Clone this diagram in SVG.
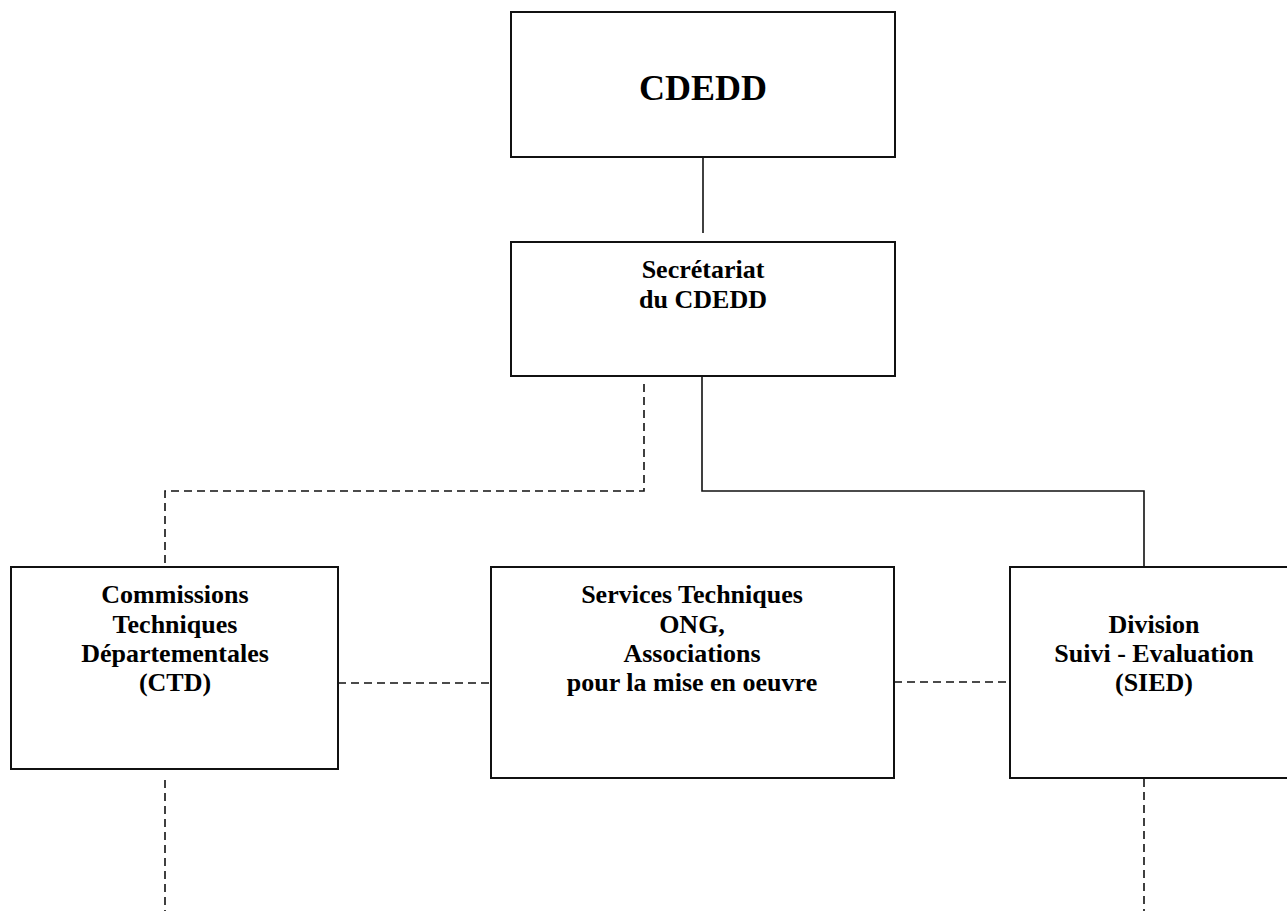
<svg xmlns="http://www.w3.org/2000/svg" width="1287" height="911" viewBox="0 0 1287 911">
<style>
.box{fill:#fff;stroke:#111;stroke-width:2}
.t{font-family:"Liberation Serif","Times New Roman",serif;font-weight:bold;font-size:26px;fill:#000;text-anchor:middle}
.big{font-size:36px}
.solid{fill:none;stroke:#111;stroke-width:1.6}
.dash{fill:none;stroke:#111;stroke-width:1.6;stroke-dasharray:8 5}
</style>
<rect width="1287" height="911" fill="#fff"/>
<g id="connectors">
<path class="solid" d="M703 155 V233"/>
<path class="solid" d="M702 376 V491 H1144 V567"/>
<path class="dash" d="M644 384 V491 H165 V567"/>
<path class="dash" d="M338 683 H491"/>
<path class="dash" d="M894 682 H1010"/>
<path class="dash" d="M165 780 V911"/>
<path class="dash" d="M1144 779 V911"/>
</g>
<g id="cdedd">
<rect class="box" x="511" y="12" width="384" height="145"/>
<text class="t big" x="703" y="100">CDEDD</text>
</g>
<g id="secretariat">
<rect class="box" x="511" y="242" width="384" height="134"/>
<text class="t" x="703" y="278">Secrétariat</text>
<text class="t" x="703" y="308">du CDEDD</text>
</g>
<g id="ctd">
<rect class="box" x="11" y="567" width="327" height="202"/>
<text class="t" x="175" y="603">Commissions</text>
<text class="t" x="175" y="633">Techniques</text>
<text class="t" x="175" y="662">Départementales</text>
<text class="t" x="175" y="691">(CTD)</text>
</g>
<g id="services">
<rect class="box" x="491" y="567" width="403" height="211"/>
<text class="t" x="692" y="603">Services Techniques</text>
<text class="t" x="692" y="633">ONG,</text>
<text class="t" x="692" y="662">Associations</text>
<text class="t" x="692" y="691">pour la mise en oeuvre</text>
</g>
<g id="sied">
<rect class="box" x="1010" y="567" width="290" height="211"/>
<text class="t" x="1154" y="633">Division</text>
<text class="t" x="1154" y="662">Suivi - Evaluation</text>
<text class="t" x="1154" y="691">(SIED)</text>
</g>
</svg>
